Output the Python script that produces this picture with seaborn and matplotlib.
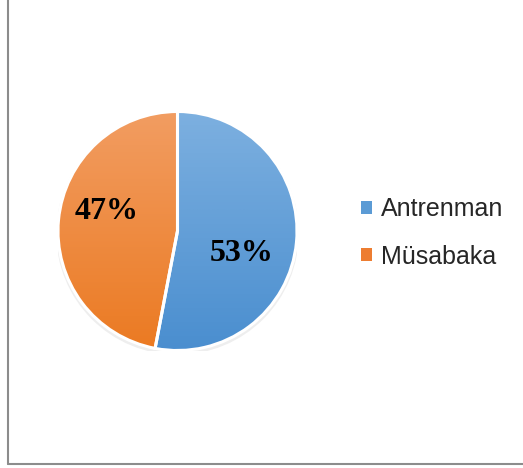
import numpy as np
import matplotlib
matplotlib.use("Agg")
import matplotlib.pyplot as plt
from matplotlib.colors import LinearSegmentedColormap
from matplotlib.lines import Line2D
from matplotlib.patches import Circle
import seaborn as sns

# data
categories = ["Antrenman", "Müsabaka"]
shares = [53, 47]
base_colors = ["#5B9BD5", "#ED7D31"]
grad_top = ["#7DB0E0", "#F29D62"]
grad_bottom = ["#4A8ECF", "#EB7A22"]

sns.set_theme(style="white")
plt.rcParams["font.family"] = ["Liberation Sans", "DejaVu Sans"]

W, H = 523, 468
fig = plt.figure(figsize=(W / 100, H / 100), dpi=100)

# pie centre ~ (177.5, 231) px, radius ~119.5 px
cx, cy, r = 177.5, 231, 119.5
ax = fig.add_axes([(cx - r) / W, (H - cy - r) / H, 2 * r / W, 2 * r / H])
ax.set_axis_off()

# faint shadow under the pie
ax.add_patch(Circle((0.0, -0.02), 1.015, facecolor="#E3E3E3", edgecolor="none",
                    alpha=0.6, zorder=0.5))

wedges, _ = ax.pie(shares, colors=base_colors, startangle=90, counterclock=False,
                   radius=1, wedgeprops=dict(linewidth=0, zorder=1),
                   frame=False)

# vertical gradient inside each slice
grad = np.linspace(0, 1, 256).reshape(-1, 1)
for w, top, bot in zip(wedges, grad_top, grad_bottom):
    cmap = LinearSegmentedColormap.from_list("g", [bot, top])
    im = ax.imshow(grad, cmap=cmap, extent=[-1, 1, -1, 1], origin="lower",
                   aspect="auto", zorder=1.5)
    im.set_clip_path(w)

# white slice borders on top
ax.pie(shares, colors=["none", "none"], startangle=90, counterclock=False,
       radius=1, wedgeprops=dict(linewidth=2.2, edgecolor="white", zorder=2),
       frame=False)
ax.set_xlim(-1, 1)
ax.set_ylim(-1, 1)
ax.set_aspect("auto")

# percentage labels (Excel-like placement)
label_pos = [(0.54, -0.185), (-0.595, 0.165)]
for s, (lx, ly) in zip(shares, label_pos):
    ax.text(lx, ly, f"{s}%", ha="center", va="center", fontsize=23,
            fontweight="bold", family=["Liberation Serif", "DejaVu Serif"],
            color="black", zorder=3)

fig.legend(wedges, categories, loc="center left",
           bbox_to_anchor=(361 / W, 1 - 233 / H), frameon=False,
           fontsize=18, handlelength=0.42, handleheight=0.42,
           handletextpad=0.38, labelspacing=0.92, borderpad=0,
           borderaxespad=0, labelcolor="#262626")

# chart area border (left and bottom visible)
fig.add_artist(Line2D([7.5 / W, 7.5 / W], [1, 1 - 463.5 / H],
                      transform=fig.transFigure, color="#8C8C8C", lw=1.5))
fig.add_artist(Line2D([7.5 / W, 1], [1 - 463.5 / H, 1 - 463.5 / H],
                      transform=fig.transFigure, color="#8C8C8C", lw=1.5))

fig.savefig("out.png", dpi=100, facecolor="white")
